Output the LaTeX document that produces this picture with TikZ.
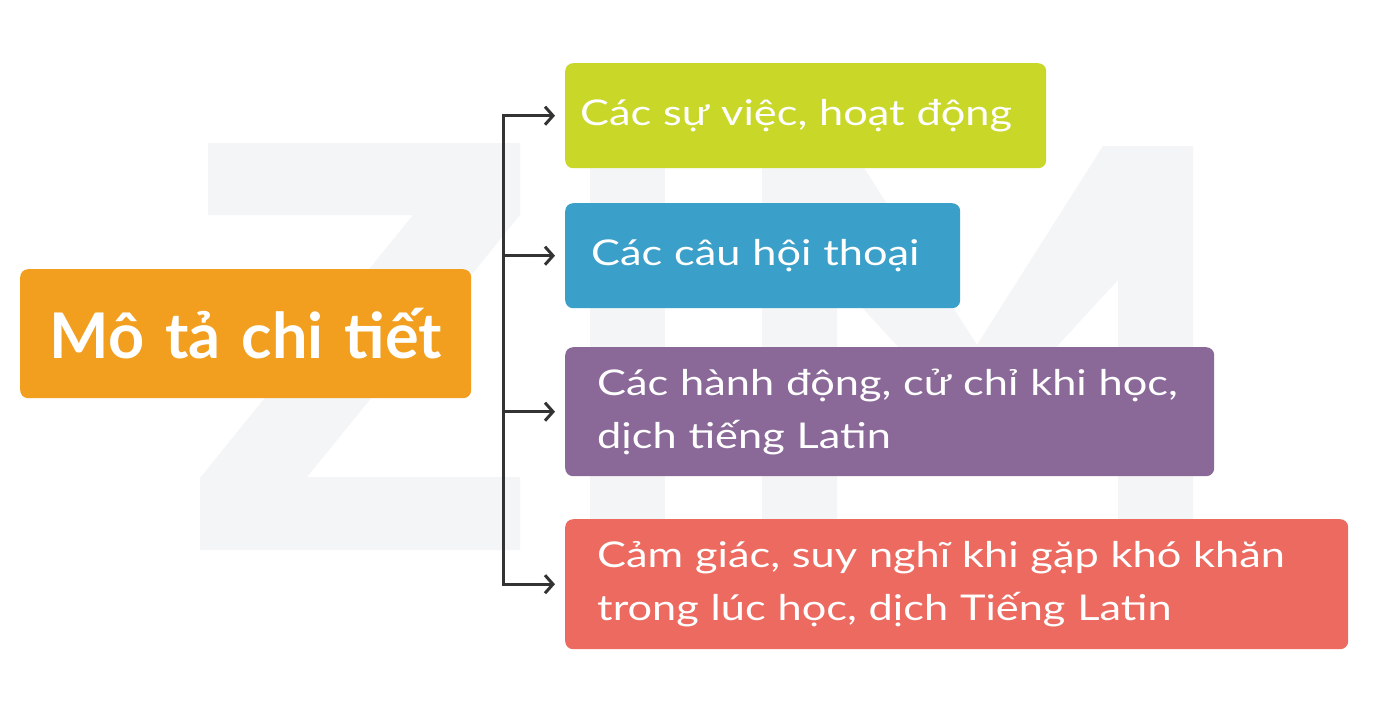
\documentclass[tikz,border=0pt]{standalone}
\usepackage{fontspec}
\setmainfont{Lato}
\newfontfamily\bodyfont{Lato}[FakeStretch=1.22]
\newfontfamily\titlefont{Lato Bold}
\usetikzlibrary{arrows.meta}
\definecolor{cgreen}{HTML}{C8D728}
\definecolor{cblue}{HTML}{3AA0C9}
\definecolor{cpurple}{HTML}{8A6898}
\definecolor{cred}{HTML}{EC6A5F}
\definecolor{corange}{HTML}{F29F1F}
\definecolor{cline}{HTML}{333333}
\definecolor{wmark}{HTML}{F4F5F7}
\begin{document}
\begin{tikzpicture}[x=1pt,y=-1pt,
  box/.style={rounded corners=8pt, anchor=north west, inner ysep=0pt,
    text=white, align=left, font=\bodyfont\fontsize{35.5}{53}\selectfont},
  conn/.style={draw=cline, line width=3pt},
  arr/.style={conn, -{Straight Barb[length=8pt,width=18pt]}, shorten >=10pt},
  wm/.style={fill=wmark}]
\useasboundingbox[fill=white] (0,0) rectangle (1373,718);
% watermark ZIM
\fill[wm] (208,143) -- (520,143) -- (520,215) -- (307,477) -- (520,477) -- (520,550)
  -- (200,550) -- (200,478) -- (413,215) -- (208,215) -- cycle;
\fill[wm] (590,143) rectangle (665,550);
\fill[wm] (762,146) -- (850,146) -- (977,345) -- (1103,146) -- (1193,146) -- (1193,550)
  -- (1118,550) -- (1118,280) -- (977,433) -- (837,280) -- (837,550) -- (762,550) -- cycle;
% boxes
\node[box, fill=corange, minimum height=129pt, text width=451pt, inner xsep=0pt, align=center,
  font=\titlefont\fontsize{63}{65}\selectfont] (root) at (20,269) {Mô tả chi tiết};
\node[box, fill=cgreen, minimum height=105pt, inner xsep=15pt, text width=451pt] (b1) at (565,63)
  {Các sự việc, hoạt động};
\node[box, fill=cblue, minimum height=105pt, inner xsep=26pt, text width=343pt] (b2) at (565,203)
  {Các câu hội thoại};
\node[box, fill=cpurple, minimum height=129pt, inner xsep=32pt, text width=585pt] (b3) at (565,347)
  {Các hành động, cử chỉ khi học,\\dịch tiếng Latin};
\node[box, fill=cred, minimum height=130pt, inner xsep=32pt, text width=719pt] (b4) at (565,519)
  {Cảm giác, suy nghĩ khi gặp khó khăn\\trong lúc học, dịch Tiếng Latin};
% connectors
\coordinate (sx) at (503,0);
\coordinate (j1) at (sx |- b1.west);
\coordinate (j2) at (sx |- b2.west);
\coordinate (j3) at (sx |- b3.west);
\coordinate (j4) at (sx |- b4.west);
\draw[conn, line cap=rect] (j1) -- (j4);
\draw[arr] (j1) -- (b1.west);
\draw[arr] (j2) -- (b2.west);
\draw[arr] (j3) -- (b3.west);
\draw[arr] (j4) -- (b4.west);
\end{tikzpicture}
\end{document}
